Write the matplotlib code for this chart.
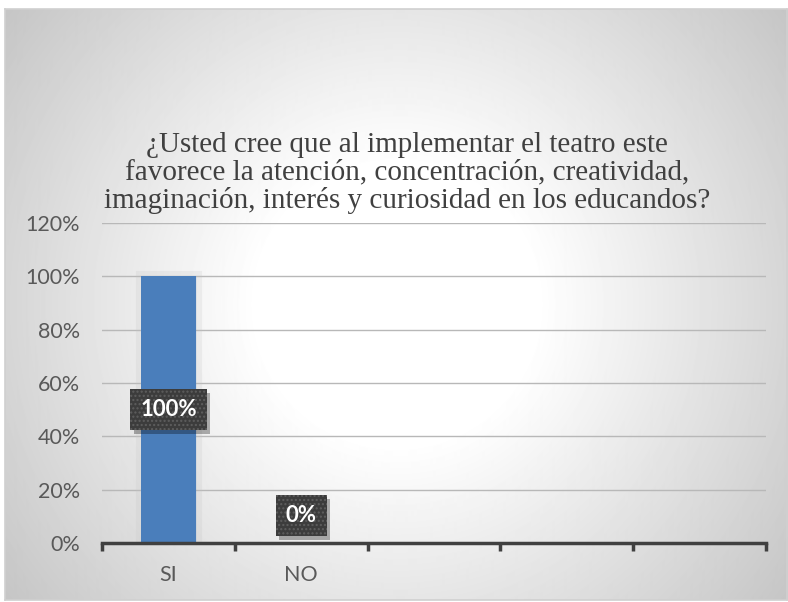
import matplotlib
matplotlib.use("Agg")
import matplotlib.pyplot as plt
from matplotlib.ticker import FuncFormatter
from matplotlib import transforms
import matplotlib.patheffects as pe
import numpy as np

categories = ["SI", "NO", "", "", ""]
values = [1.00, 0.00, np.nan, np.nan, np.nan]
yticks = [0, 0.2, 0.4, 0.6, 0.8, 1.0, 1.2]
title = ("¿Usted cree que al implementar el teatro este\n"
         "favorece la atención, concentración, creatividad,\n"
         "imaginación, interés y curiosidad en los educandos?")

W, H = 788, 602
fig = plt.figure(figsize=(W / 100, H / 100), dpi=100)
fig.patch.set_facecolor("white")

# chart area with radial grey gradient
x0, y0, x1, y1 = 5, 9, 787, 600
bg = fig.add_axes([x0 / W, (H - y1) / H, (x1 - x0) / W, (y1 - y0) / H], zorder=0)
xx, yy = np.meshgrid(np.arange(x0, x1), np.arange(y0, y1))
cx, cy = (x0 + x1) / 2, (y0 + y1) / 2
d = np.hypot(xx - cx, yy - cy)
val = np.clip(255 - np.maximum(0, d - 140) * 0.165, 0, 255) / 255
bg.imshow(val, cmap="gray", vmin=0, vmax=1, aspect="auto", interpolation="bilinear")
bg.set_xticks([])
bg.set_yticks([])
for s in bg.spines.values():
    s.set_color("#d0d0d0")
    s.set_linewidth(1.2)

ax = fig.add_axes([102 / W, (H - 543) / H, (766 - 102) / W, (543 - 223) / H], zorder=1)
ax.patch.set_alpha(0)

x = np.arange(len(categories))
bars = ax.bar(x, np.nan_to_num(values), width=0.41, color="#4a7ebb", zorder=3)
for b, v in zip(bars, values):
    if np.nan_to_num(v) > 0:
        # soft glow like the Excel bar effect
        b.set_path_effects([pe.Stroke(linewidth=8, foreground="#c4c4c4", alpha=0.22), pe.Normal()])
    else:
        b.set_visible(False)

ax.set_xlim(-0.5, len(categories) - 0.5)
ax.set_ylim(0, 1.2)
ax.set_yticks(yticks)
ax.yaxis.set_major_formatter(FuncFormatter(lambda v, p: f"{v:.0%}"))
ax.grid(axis="y", color="#b8b8b8", linewidth=1, zorder=1)
ax.tick_params(axis="y", length=0, pad=16, labelsize=15.5, labelcolor="#595959")
for lb in ax.get_yticklabels():
    lb.set_family("Lato")

# category boundaries as ticks, names as minor labels
ax.set_xticks(np.arange(len(categories) + 1) - 0.5)
ax.set_xticklabels([])
ax.tick_params(axis="x", which="major", direction="out", length=6, width=2.5, color="#404040")
ax.set_xticks(x, minor=True)
ax.set_xticklabels(categories, minor=True, fontsize=15.5, color="#595959", family="Lato")
ax.tick_params(axis="x", which="minor", length=0, pad=16)

for k in ["top", "right", "left"]:
    ax.spines[k].set_visible(False)
ax.spines["bottom"].set_color("#404040")
ax.spines["bottom"].set_linewidth(2.5)
ax.spines["bottom"].set_zorder(4)

# data labels
for xi, v in zip(x, values):
    if np.isnan(v):
        continue
    if v > 0:
        ypos, va, dy = v / 2, "center", 0
    else:
        ypos, va, dy = 0, "bottom", 12
    box = dict(boxstyle="square,pad=0.45", fc="#3c3c3c", ec="#5e5e5e", lw=0, hatch="....")
    tr = transforms.offset_copy(ax.transData, fig=fig, x=0, y=dy, units="points")
    t = ax.text(xi, ypos, f"{v:.0%}", ha="center", va=va, fontsize=16, fontweight="bold",
                color="white", family="Lato", bbox=box, transform=tr, zorder=5)
    t.get_bbox_patch().set_path_effects(
        [pe.SimplePatchShadow(offset=(2.5, -2.5), shadow_rgbFace="black", alpha=0.3, hatch=None),
         pe.Normal()])

fig.text(407 / W, 1 - 173 / H, title, ha="center", va="center", fontsize=21,
         family="Liberation Serif", color="#404040", linespacing=1.08, zorder=2)

fig.savefig("out.png", dpi=100)
